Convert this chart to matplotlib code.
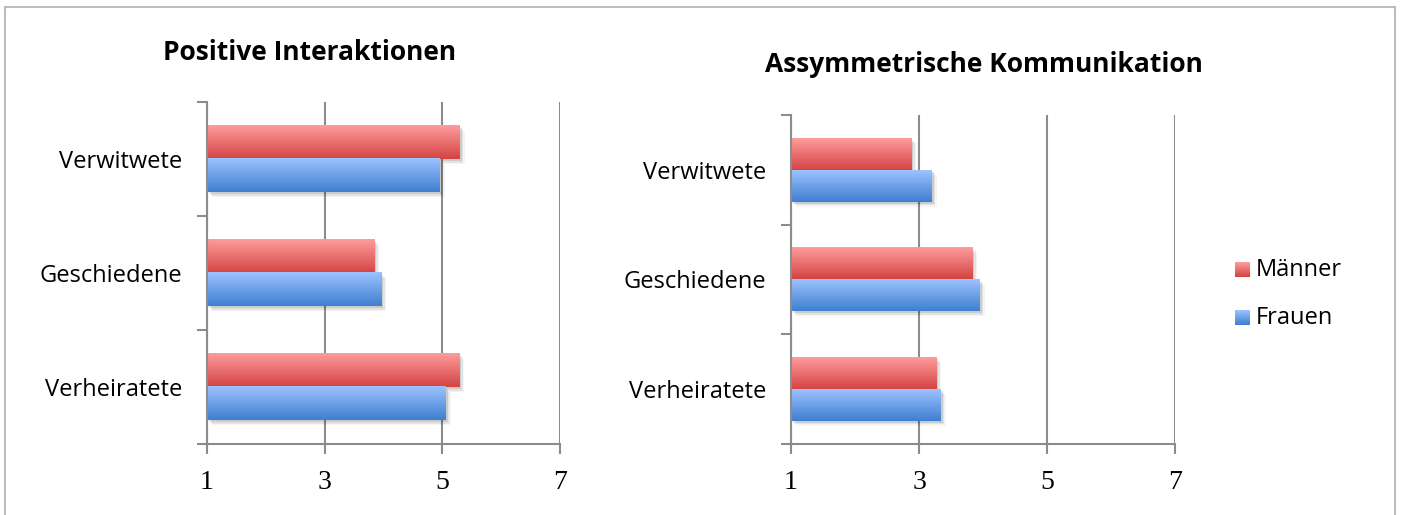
import numpy as np
import matplotlib
matplotlib.use('Agg')
import matplotlib.pyplot as plt
from matplotlib.patches import Rectangle
from matplotlib.colors import LinearSegmentedColormap
import matplotlib.transforms as mtransforms

# data (scale 1..7)
categories = ["Verheiratete", "Geschiedene", "Verwitwete"]
series = ["Männer", "Frauen"]
pos_maenner = [5.29, 3.84, 5.30]
pos_frauen = [5.06, 3.96, 4.96]
asym_maenner = [3.27, 3.83, 2.88]
asym_frauen = [3.34, 3.95, 3.20]
x_ticks = [1, 3, 5, 7]

# ── style ─────────────────────────────────────────────────────────────
grey = '#8c8c8c'
red_cmap = LinearSegmentedColormap.from_list('r', ['#d44444', '#ff9c9c'])
blue_cmap = LinearSegmentedColormap.from_list('b', ['#3f7fd0', '#9cc2ff'])
label_font = 'Open Sans'
tick_font = 'Liberation Serif'

fig = plt.figure(figsize=(14.01, 5.15), dpi=100)
fig.patch.set_facecolor('white')

# outer frame
fig.patches.append(Rectangle((5 / 1401, -0.05), 1390 / 1401, 1.05 - 7 / 515,
                             transform=fig.transFigure, fill=False,
                             edgecolor='#bdbdbd', lw=1.5, zorder=0))

bar_h = 0.29


def gradient_bar(ax, patch, cmap):
    x0, y0 = patch.get_x(), patch.get_y()
    w, h = patch.get_width(), patch.get_height()
    grad = np.linspace(0, 1, 64).reshape(-1, 1)
    # soft shadow below/right
    for k, a in enumerate([0.10, 0.07, 0.04]):
        off = mtransforms.offset_copy(ax.transData, fig=fig,
                                      x=2 + k * 1.5, y=-2 - k * 1.5, units='dots')
        ax.add_patch(Rectangle((x0, y0), w, h, transform=off,
                               facecolor='black', alpha=a, lw=0, zorder=1))
    ax.imshow(grad, extent=[x0, x0 + w, y0, y0 + h], origin='lower',
              aspect='auto', cmap=cmap, zorder=2, interpolation='bilinear')
    patch.set_visible(False)


def draw_panel(rect, maenner, frauen, title, title_xy):
    ax = fig.add_axes(rect)
    y = np.arange(len(categories))
    bm = ax.barh(y + bar_h / 2, np.array(maenner) - 1, left=1, height=bar_h)
    bf = ax.barh(y - bar_h / 2, np.array(frauen) - 1, left=1, height=bar_h)
    for p in bm:
        gradient_bar(ax, p, red_cmap)
    for p in bf:
        gradient_bar(ax, p, blue_cmap)

    ax.set_xlim(1, 7)
    ax.set_ylim(-0.5, len(categories) - 0.5)
    ax.set_xticks(x_ticks)
    ax.set_xticklabels([str(t) for t in x_ticks], fontfamily=tick_font,
                       fontsize=20)
    ax.set_yticks(np.arange(-0.5, len(categories), 1.0))
    ax.set_yticklabels([])
    ax.set_yticks(y, minor=True)
    ax.set_yticklabels(categories, minor=True, fontfamily=label_font,
                       fontsize=17)
    ax.tick_params(axis='y', which='minor', length=0, pad=18)
    ax.tick_params(axis='y', which='major', length=7, width=1.5, color=grey)
    ax.tick_params(axis='x', length=7, width=1.5, color=grey, pad=12)

    ax.grid(axis='x', color=grey, lw=1.5, zorder=0)
    ax.set_axisbelow(True)
    for s in ['top', 'right']:
        ax.spines[s].set_visible(False)
    for s in ['left', 'bottom']:
        ax.spines[s].set_color(grey)
        ax.spines[s].set_linewidth(1.5)
    ax.set_facecolor('none')

    fig.text(title_xy[0], title_xy[1], title, ha='center', va='center',
             fontfamily=label_font, fontweight='bold', fontsize=19)
    return ax


draw_panel([207 / 1401, 71 / 515, 353 / 1401, 342 / 515],
           pos_maenner, pos_frauen, "Positive Interaktionen",
           (310 / 1401, 1 - 52 / 515))
draw_panel([791 / 1401, 71 / 515, 384 / 1401, 329 / 515],
           asym_maenner, asym_frauen, "Assymmetrische Kommunikation",
           (984 / 1401, 1 - 64 / 515))

# legend
for i, (name, cmap) in enumerate(zip(series, [red_cmap, blue_cmap])):
    yy = 1 - (270 + i * 48) / 515
    lax = fig.add_axes([1235 / 1401, yy - 7 / 515, 15 / 1401, 15 / 515])
    lax.imshow(np.linspace(0, 1, 32).reshape(-1, 1), origin='lower',
               aspect='auto', cmap=cmap, extent=[0, 1, 0, 1])
    lax.axis('off')
    fig.text(1256 / 1401, yy, name, ha='left', va='center',
             fontfamily=label_font, fontsize=17)

fig.savefig('out.png', dpi=100, facecolor='white')
